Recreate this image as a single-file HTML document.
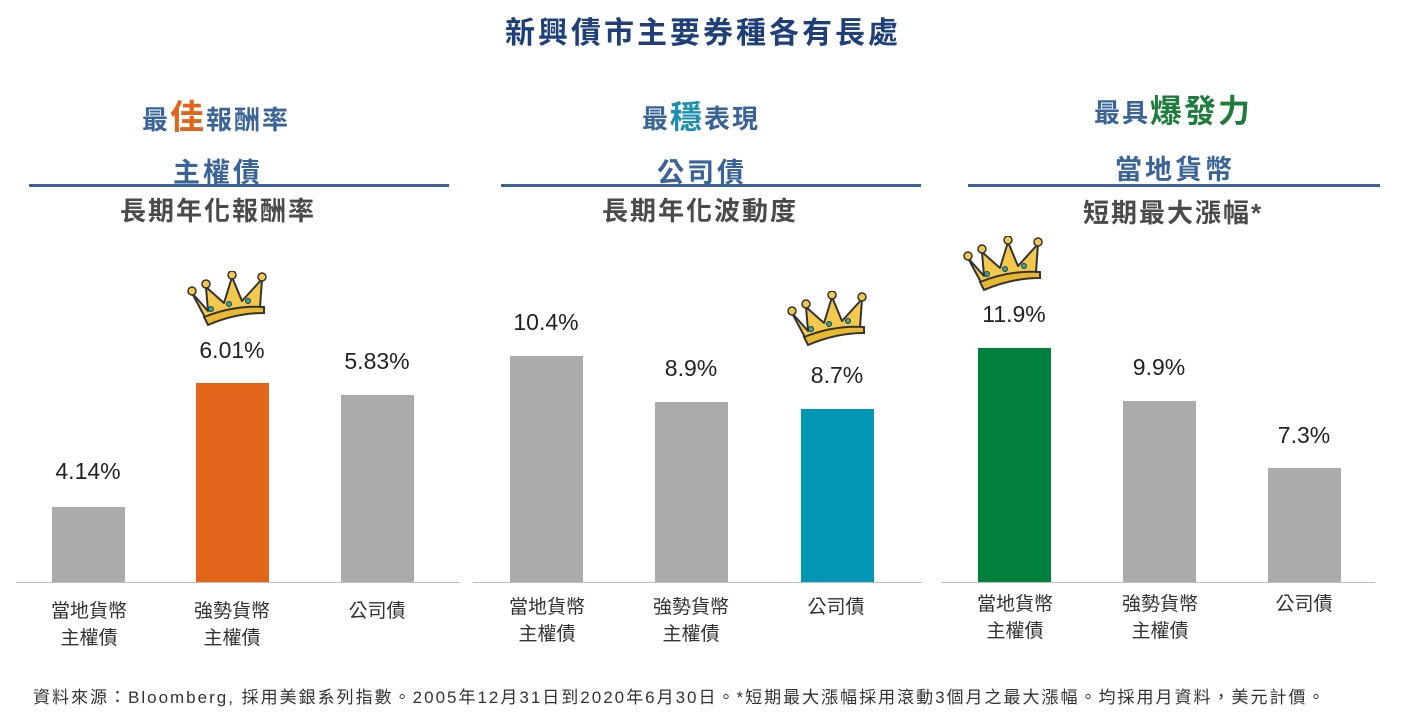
<!DOCTYPE html>
<html><head><meta charset="utf-8"><style>
body{margin:0;width:1404px;height:723px;background:#fff;position:relative;overflow:hidden;font-family:"Liberation Sans","Noto Sans CJK TC",sans-serif}
.a{position:absolute;white-space:nowrap}
.c{transform:translateX(-50%);text-align:center}
.bar{position:absolute;width:73px}
.base{position:absolute;height:1px;background:#bfbfbf;top:582px}
.line{position:absolute;height:3px;background:#3a6497;top:184px}
.h1{font-size:26px;color:#3a6497;font-weight:bold;letter-spacing:2px}
.h2{font-size:27px;color:#3a6497;font-weight:bold;letter-spacing:3px}
.h3{font-size:26px;color:#4a4a4a;font-weight:bold;letter-spacing:2px}
.v{font-size:23px;color:#222}
.l{font-size:19px;color:#333;line-height:27px}
</style></head><body>
<div class="a c" style="left:703px;top:8px;font-size:30px;font-weight:bold;color:#1f3f7a;letter-spacing:3px">新興債市主要券種各有長處</div>

<div class="a c h1" style="left:216px;top:90px">最<span style="color:#e2651a;font-size:34px">佳</span>報酬率</div>
<div class="a c h1" style="left:701px;top:92px">最<span style="color:#1a8fb0;font-size:32px">穩</span>表現</div>
<div class="a c h1" style="left:1173px;top:86px">最具<span style="color:#1e7d3c;font-size:32px">爆發力</span></div>

<div class="a c h2" style="left:218px;top:151px">主權債</div>
<div class="a c h2" style="left:702px;top:151px">公司債</div>
<div class="a c h2" style="left:1175px;top:148px">當地貨幣</div>
<div class="line" style="left:29px;width:420px"></div>
<div class="line" style="left:501px;width:420px"></div>
<div class="line" style="left:968px;width:412px"></div>
<div class="a c h3" style="left:218px;top:191px">長期年化報酬率</div>
<div class="a c h3" style="left:700px;top:191px">長期年化波動度</div>
<div class="a c h3" style="left:1173px;top:193px">短期最大漲幅*</div>

<div class="base" style="left:16px;width:444px"></div>
<div class="base" style="left:473px;width:449px"></div>
<div class="base" style="left:941px;width:434px"></div>

<div class="bar" style="left:52px;top:507px;height:75px;background:#ababab"></div>
<div class="bar" style="left:196px;top:383px;height:199px;background:#e2651a"></div>
<div class="bar" style="left:341px;top:395px;height:187px;background:#ababab"></div>
<div class="bar" style="left:510px;top:356px;height:226px;background:#ababab"></div>
<div class="bar" style="left:655px;top:402px;height:180px;background:#ababab"></div>
<div class="bar" style="left:801px;top:409px;height:173px;background:#0096b4"></div>
<div class="bar" style="left:978px;top:348px;height:234px;background:#00803c"></div>
<div class="bar" style="left:1123px;top:401px;height:181px;background:#ababab"></div>
<div class="bar" style="left:1268px;top:468px;height:114px;background:#ababab"></div>

<div class="a c v" style="left:88px;top:458px">4.14%</div>
<div class="a c v" style="left:232px;top:337px">6.01%</div>
<div class="a c v" style="left:377px;top:348px">5.83%</div>
<div class="a c v" style="left:546px;top:309px">10.4%</div>
<div class="a c v" style="left:691px;top:355px">8.9%</div>
<div class="a c v" style="left:837px;top:362px">8.7%</div>
<div class="a c v" style="left:1014px;top:301px">11.9%</div>
<div class="a c v" style="left:1159px;top:354px">9.9%</div>
<div class="a c v" style="left:1304px;top:422px">7.3%</div>

<div class="a c l" style="left:89px;top:598px">當地貨幣<br>主權債</div>
<div class="a c l" style="left:232px;top:598px">強勢貨幣<br>主權債</div>
<div class="a c l" style="left:377px;top:598px">公司債</div>
<div class="a c l" style="left:547px;top:594px">當地貨幣<br>主權債</div>
<div class="a c l" style="left:691px;top:594px">強勢貨幣<br>主權債</div>
<div class="a c l" style="left:836px;top:594px">公司債</div>
<div class="a c l" style="left:1015px;top:591px">當地貨幣<br>主權債</div>
<div class="a c l" style="left:1160px;top:591px">強勢貨幣<br>主權債</div>
<div class="a c l" style="left:1304px;top:591px">公司債</div>

<svg width="0" height="0" style="position:absolute"><defs><g id="cr">
<path d="M6 22 L22 40 L20 16 L38 32 L46 6 L56 30 L76 8 L74 36 Q50 40 22 52 Z" fill="#f2c94c" stroke="#333" stroke-width="2" stroke-linejoin="round"/>
<path d="M18 46 Q48 34 78 36 L78 42 Q50 42 22 54 Z" fill="#e8b830" stroke="#333" stroke-width="2"/>
<circle cx="6" cy="20" r="4" fill="#f2c94c" stroke="#333" stroke-width="1.5"/>
<circle cx="20" cy="13" r="4" fill="#f2c94c" stroke="#333" stroke-width="1.5"/>
<circle cx="46" cy="4" r="4" fill="#f2c94c" stroke="#333" stroke-width="1.5"/>
<circle cx="76" cy="6" r="4" fill="#f2c94c" stroke="#333" stroke-width="1.5"/>
<circle cx="25" cy="38" r="2.5" fill="#2aa" stroke="#333"/>
<circle cx="43" cy="33" r="2.5" fill="#2aa" stroke="#333"/>
<circle cx="62" cy="30" r="2.5" fill="#2aa" stroke="#333"/>
</g></defs></svg>
<svg class="a" style="left:186px;top:271px" width="84" height="58"><use href="#cr"/></svg>
<svg class="a" style="left:786px;top:291px" width="84" height="58"><use href="#cr"/></svg>
<svg class="a" style="left:962px;top:236px" width="84" height="58"><use href="#cr"/></svg>

<div class="a" style="left:33px;top:683px;font-size:17px;color:#333;letter-spacing:2px">資料來源：Bloomberg, 採用美銀系列指數。2005年12月31日到2020年6月30日。*短期最大漲幅採用滾動3個月之最大漲幅。均採用月資料，美元計價。</div>
</body></html>
